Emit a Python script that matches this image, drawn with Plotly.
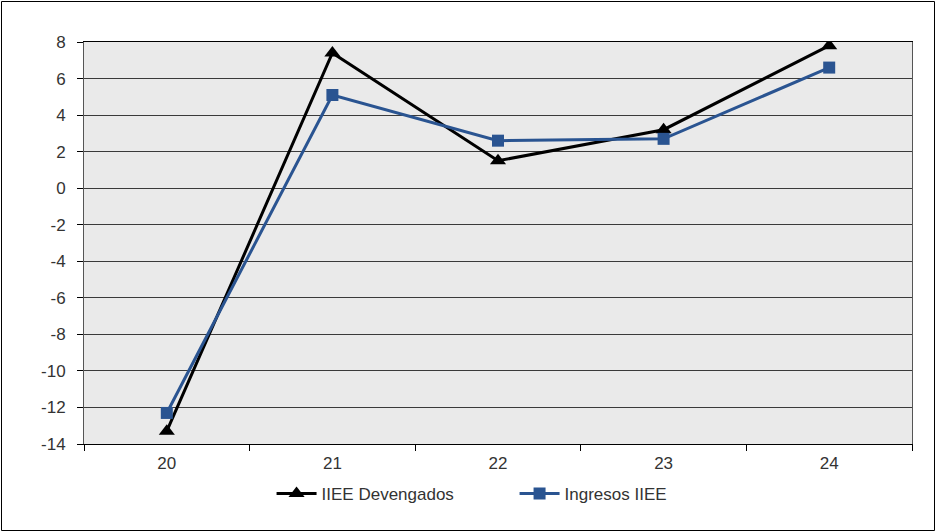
import plotly.graph_objects as go

# Data
years = ["20", "21", "22", "23", "24"]
iiee_devengados = [-13.3, 7.4, 1.5, 3.2, 7.8]
ingresos_iiee = [-12.3, 5.1, 2.6, 2.7, 6.6]
y_ticks = [-14, -12, -10, -8, -6, -4, -2, 0, 2, 4, 6, 8]

BLUE = '#2A5491'
GRID = '#3A3A3A'
FONT = dict(family="Liberation Sans, Arial, sans-serif", size=17, color='#333333')

fig = go.Figure()

fig.add_trace(go.Scatter(
    x=years, y=iiee_devengados,
    name="IIEE Devengados",
    mode='lines+markers',
    line=dict(color='black', width=3),
    marker=dict(symbol='triangle-up', size=14, color='black'),
))

fig.add_trace(go.Scatter(
    x=years, y=ingresos_iiee,
    name="Ingresos IIEE",
    mode='lines+markers',
    line=dict(color=BLUE, width=3),
    marker=dict(symbol='square', size=12, color=BLUE),
))

W, H = 936, 532
ml, mr, mt, mb = 84, 24, 42, 88
pw, ph = W - ml - mr, H - mt - mb

# outer frame around the whole picture
fig.add_shape(
    type='rect', xref='paper', yref='paper',
    x0=-(ml - 1.5) / pw, x1=1 + (mr - 1.5) / pw,
    y0=-(mb - 1.5) / ph, y1=1 + (mt - 1.5) / ph,
    line=dict(color='black', width=1), fillcolor='rgba(0,0,0,0)',
    layer='above',
)

fig.update_layout(
    width=W, height=H,
    margin=dict(l=ml, r=mr, t=mt, b=mb),
    paper_bgcolor='white',
    plot_bgcolor='#EAEAEA',
    font=FONT,
    showlegend=True,
    legend=dict(
        orientation='h', x=0.52, xanchor='center',
        y=-0.124, yanchor='middle',
        itemwidth=40, entrywidth=188,
        bgcolor='rgba(0,0,0,0)',
    ),
    xaxis=dict(
        type='category',
        range=[-0.5, 4.5],
        tickson='boundaries',
        ticks='outside', ticklen=6, tickcolor='black',
        ticklabelstandoff=4,
        showgrid=False,
        showline=True, linecolor='black', linewidth=1, mirror=True,
    ),
    yaxis=dict(
        range=[-14, 8],
        tickvals=y_ticks, ticktext=[str(v) for v in y_ticks],
        ticks='outside', ticklen=6, tickcolor='black',
        ticklabelstandoff=8,
        showgrid=True, gridcolor=GRID, gridwidth=1,
        zeroline=True, zerolinecolor=GRID, zerolinewidth=1,
        showline=True, linecolor='#555555', linewidth=1, mirror=True,
    ),
)

fig.write_html("out.html", config={'displayModeBar': False},
               post_script="document.body.style.margin='0';")
